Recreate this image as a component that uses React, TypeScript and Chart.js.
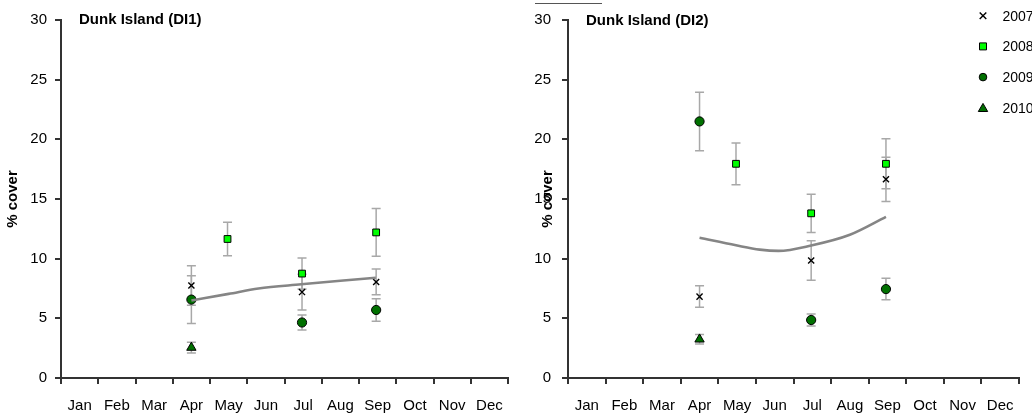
import React, { useEffect, useRef } from 'react';
import { Chart, registerables } from 'chart.js';

Chart.register(...registerables);

// ---------- data ----------
const monthLabels = ['Jan', 'Feb', 'Mar', 'Apr', 'May', 'Jun', 'Jul', 'Aug', 'Sep', 'Oct', 'Nov', 'Dec'];
const yearLabels = ['2007', '2008', '2009', '2010'];
const yTickMin = 0;
const yTickMax = 30;
const yTickStep = 5;

// sampling positions (month index, mid-month = n + 0.5)
const x2007 = [3.5, 6.47, 8.46];
const x2008 = [4.47, 6.47, 8.46];
const x2009 = [3.5, 6.47, 8.46];
const x2010 = [3.5];

// Dunk Island (DI1)
const di1Y2007 = [7.75, 7.2, 8.05];
const di1E2007 = [1.65, 1.5, 1.08];
const di1Y2008 = [11.65, 8.75, 12.2];
const di1E2008 = [1.4, 1.3, 2.0];
const di1Y2009 = [6.57, 4.65, 5.7];
const di1E2009 = [2.0, 0.62, 0.95];
const di1Y2010 = [2.55];
const di1E2010 = [0.45];
const di1TrendX = [3.5, 4.5, 5.3, 6.45, 7.5, 8.45];
const di1TrendY = [6.5, 7.05, 7.5, 7.85, 8.15, 8.4];

// Dunk Island (DI2)
const di2Y2007 = [6.82, 9.85, 16.65];
const di2E2007 = [0.9, 1.65, 1.85];
const di2Y2008 = [17.95, 13.8, 17.95];
const di2E2008 = [1.75, 1.6, 2.1];
const di2Y2009 = [21.5, 4.86, 7.45];
const di2E2009 = [2.45, 0.5, 0.9];
const di2Y2010 = [3.24];
const di2E2010 = [0.4];
const di2TrendX = [3.5, 4.47, 5.1, 5.6, 6.47, 7.5, 8.46];
const di2TrendY = [11.75, 11.12, 10.76, 10.65, 11.1, 12.0, 13.5];

// ---------- styling ----------
const FONT = "'Liberation Sans', Arial, sans-serif";
const AXIS = '#333333';
const ERR = '#a8a8a8';
const LIME = '#00ff00';
const DARK = '#007000';

const pts = (xs: number[], ys: number[]) => xs.map((x, i) => ({ x, y: ys[i] }));

const errorBarPlugin = {
  id: 'errorBars',
  beforeDatasetsDraw(chart: any) {
    const ctx = chart.ctx;
    const xs = chart.scales.x;
    const ys = chart.scales.y;
    ctx.save();
    ctx.strokeStyle = ERR;
    ctx.lineWidth = 1.5;
    chart.data.datasets.forEach((ds: any) => {
      if (!ds.errors) return;
      ds.data.forEach((p: any, i: number) => {
        const e = ds.errors[i];
        const px = xs.getPixelForValue(p.x);
        const top = ys.getPixelForValue(p.y + e);
        const bot = ys.getPixelForValue(p.y - e);
        ctx.beginPath();
        ctx.moveTo(px, top);
        ctx.lineTo(px, bot);
        ctx.moveTo(px - 4.5, top);
        ctx.lineTo(px + 4.5, top);
        ctx.moveTo(px - 4.5, bot);
        ctx.lineTo(px + 4.5, bot);
        ctx.stroke();
      });
    });
    ctx.restore();
  },
};

const panelTitlePlugin = {
  id: 'panelTitle',
  afterDraw(chart: any, _args: any, opts: any) {
    if (!opts || !opts.text) return;
    const ctx = chart.ctx;
    ctx.save();
    ctx.font = `bold 15px ${FONT}`;
    ctx.fillStyle = '#000';
    ctx.textBaseline = 'alphabetic';
    ctx.textAlign = 'left';
    ctx.fillText(opts.text, chart.chartArea.left + opts.dx, opts.y);
    ctx.restore();
  },
};

function drawSymbol(ctx: CanvasRenderingContext2D, kind: number, x: number, y: number) {
  ctx.save();
  ctx.lineWidth = 1;
  ctx.strokeStyle = '#000';
  if (kind === 0) {
    const d = 3.3;
    ctx.lineWidth = 1.4;
    ctx.beginPath();
    ctx.moveTo(x - d, y - d);
    ctx.lineTo(x + d, y + d);
    ctx.moveTo(x + d, y - d);
    ctx.lineTo(x - d, y + d);
    ctx.stroke();
  } else if (kind === 1) {
    ctx.fillStyle = LIME;
    ctx.beginPath();
    ctx.rect(x - 3.5, y - 3.5, 7, 7);
    ctx.fill();
    ctx.stroke();
  } else if (kind === 2) {
    ctx.fillStyle = DARK;
    ctx.beginPath();
    ctx.arc(x, y, 3.8, 0, Math.PI * 2);
    ctx.fill();
    ctx.stroke();
  } else {
    ctx.fillStyle = DARK;
    ctx.beginPath();
    ctx.moveTo(x, y - 4.4);
    ctx.lineTo(x + 4.7, y + 3.7);
    ctx.lineTo(x - 4.7, y + 3.7);
    ctx.closePath();
    ctx.fill();
    ctx.stroke();
  }
  ctx.restore();
}

const yearLegendPlugin = {
  id: 'yearLegend',
  afterDraw(chart: any, _args: any, opts: any) {
    if (!opts || !opts.show) return;
    const ctx = chart.ctx;
    ctx.save();
    ctx.font = `14px ${FONT}`;
    ctx.textBaseline = 'middle';
    ctx.textAlign = 'left';
    yearLabels.forEach((label, i) => {
      const y = opts.top + i * opts.gap;
      drawSymbol(ctx, i, opts.symX, y);
      ctx.fillStyle = '#000';
      ctx.fillText(label, opts.textX, y + 1);
    });
    ctx.restore();
  },
};

function makeDatasets(
  y07: number[], e07: number[], y08: number[], e08: number[],
  y09: number[], e09: number[], y10: number[], e10: number[],
  tx: number[], ty: number[],
) {
  return [
    {
      label: 'trend',
      data: pts(tx, ty),
      showLine: true,
      pointRadius: 0,
      borderColor: '#858585',
      borderWidth: 2.6,
      cubicInterpolationMode: 'monotone',
      order: 0,
    },
    {
      label: yearLabels[0],
      data: pts(x2007, y07),
      errors: e07,
      pointStyle: 'crossRot',
      pointRadius: 4.3,
      borderColor: '#000',
      borderWidth: 1.4,
      order: 1,
    },
    {
      label: yearLabels[1],
      data: pts(x2008, y08),
      errors: e08,
      pointStyle: 'rect',
      pointRadius: 4.8,
      backgroundColor: LIME,
      borderColor: '#000',
      borderWidth: 1,
      order: 2,
    },
    {
      label: yearLabels[2],
      data: pts(x2009, y09),
      errors: e09,
      pointStyle: 'circle',
      pointRadius: 4.6,
      backgroundColor: DARK,
      borderColor: '#000',
      borderWidth: 1,
      order: 3,
    },
    {
      label: yearLabels[3],
      data: pts(x2010, y10),
      errors: e10,
      pointStyle: 'triangle',
      pointRadius: 5.4,
      backgroundColor: DARK,
      borderColor: '#000',
      borderWidth: 1,
      order: 4,
    },
  ];
}

function makeConfig(opts: {
  datasets: any[];
  yWidth: number;
  padTop: number;
  padRight: number;
  titlePadTop: number;
  tickPad: number;
  title: string;
  titleY: number;
  legend: any;
}): any {
  return {
    type: 'scatter',
    data: { datasets: opts.datasets },
    options: {
      responsive: false,
      animation: false,
      devicePixelRatio: 1,
      events: [],
      layout: { padding: { left: 0, top: opts.padTop, right: opts.padRight, bottom: 0 } },
      plugins: {
        legend: { display: false },
        tooltip: { enabled: false },
        panelTitle: { text: opts.title, dx: 18, y: opts.titleY },
        yearLegend: opts.legend,
      },
      scales: {
        x: {
          type: 'linear',
          min: 0,
          max: 12,
          afterBuildTicks: (scale: any) => {
            scale.ticks = monthLabels.map((_, i) => ({ value: i + 0.5 }));
          },
          afterFit: (scale: any) => {
            scale.height = 38;
          },
          ticks: {
            autoSkip: false,
            maxRotation: 0,
            padding: 13,
            color: '#000',
            font: { family: FONT, size: 15 },
            callback: (v: number) => monthLabels[Math.floor(v)],
          },
          grid: {
            offset: true,
            drawOnChartArea: false,
            drawTicks: true,
            tickLength: 6,
            color: AXIS,
            lineWidth: 2,
          },
          border: { display: true, color: AXIS, width: 2 },
        },
        y: {
          type: 'linear',
          min: yTickMin,
          max: yTickMax,
          afterFit: (scale: any) => {
            scale.width = opts.yWidth;
          },
          ticks: {
            stepSize: yTickStep,
            padding: opts.tickPad,
            color: '#000',
            font: { family: FONT, size: 15 },
          },
          grid: {
            drawOnChartArea: false,
            drawTicks: true,
            tickLength: 6,
            color: AXIS,
            lineWidth: 2,
          },
          border: { display: true, color: AXIS, width: 2 },
          title: {
            display: true,
            text: '% cover',
            color: '#000',
            font: { family: FONT, size: 15, weight: 'bold' },
            padding: { top: opts.titlePadTop, bottom: 0 },
          },
        },
      },
    },
    plugins: [errorBarPlugin, panelTitlePlugin, yearLegendPlugin],
  };
}

export default function App() {
  const leftRef = useRef<HTMLCanvasElement | null>(null);
  const rightRef = useRef<HTMLCanvasElement | null>(null);

  useEffect(() => {
    document.body.style.margin = '0';
    const left = new Chart(
      leftRef.current as HTMLCanvasElement,
      makeConfig({
        datasets: makeDatasets(di1Y2007, di1E2007, di1Y2008, di1E2008, di1Y2009, di1E2009, di1Y2010, di1E2010, di1TrendX, di1TrendY),
        yWidth: 61,
        padTop: 20,
        padRight: 4,
        titlePadTop: 4,
        tickPad: 8,
        title: 'Dunk Island (DI1)',
        titleY: 23.5,
        legend: { show: false },
      }),
    );
    const right = new Chart(
      rightRef.current as HTMLCanvasElement,
      makeConfig({
        datasets: makeDatasets(di2Y2007, di2E2007, di2Y2008, di2E2008, di2Y2009, di2E2009, di2Y2010, di2E2010, di2TrendX, di2TrendY),
        yWidth: 52,
        padTop: 19,
        padRight: 13,
        titlePadTop: 23,
        tickPad: 11,
        title: 'Dunk Island (DI2)',
        titleY: 24.5,
        legend: { show: true, symX: 467, textX: 486.5, top: 15.7, gap: 30.7 },
      }),
    );
    return () => {
      left.destroy();
      right.destroy();
    };
  }, []);

  return (
    <div style={{ position: 'relative', width: 1032, height: 416, background: '#fff', overflow: 'hidden' }}>
      <canvas ref={leftRef} width={516} height={416} style={{ position: 'absolute', left: 0, top: 0 }} />
      <canvas ref={rightRef} width={516} height={416} style={{ position: 'absolute', left: 516, top: 0 }} />
      <div style={{ position: 'absolute', left: 535, top: 3, width: 67, height: 0, borderTop: '1px solid #555' }} />
    </div>
  );
}
